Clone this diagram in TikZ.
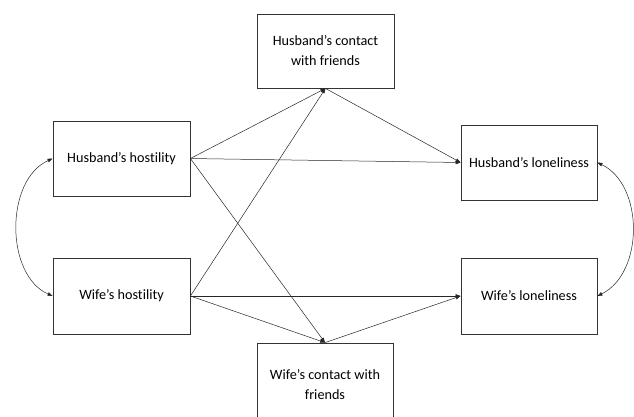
\documentclass[tikz,border=0pt]{standalone}
\usepackage{fontspec}
\setmainfont{Carlito}[Ligatures=NoCommon]
\usetikzlibrary{arrows.meta}
\begin{document}
\begin{tikzpicture}[x=1pt,y=-1pt,
  box/.style={draw=black!80,line width=0.8pt,rectangle,align=center,font=\fontsize{14.2}{20}\selectfont,inner sep=0pt},
  conn/.style={line width=0.5pt,draw=black!85,-{Triangle[length=5pt,width=3.6pt]}},
  dconn/.style={line width=0.5pt,draw=black!85,{Triangle[length=5pt,width=3.6pt]}-{Triangle[length=5pt,width=3.6pt]}}]
\useasboundingbox (0,0) rectangle (634,416);
\node[box,minimum width=137pt,minimum height=75pt] (hh) at (121.5,158.5) {Husband’s hostility};
\node[box,minimum width=137pt,minimum height=76pt] (wh) at (121.5,296) {Wife’s hostility};
\node[box,minimum width=136pt,minimum height=75pt] (hl) at (529,162.5) {Husband’s loneliness};
\node[box,minimum width=136pt,minimum height=76pt] (wl) at (529,296) {Wife’s loneliness};
\node[box,minimum width=137pt,minimum height=74pt] (hc) at (325.5,51) {Husband’s contact\\with friends};
\node[box,minimum width=136pt,minimum height=84pt] (wc) at (325,385) {Wife’s contact with\\friends};
\draw[conn] (hh.east) -- (hc.south);
\draw[conn] (hh.east) -- (hl.west);
\draw[conn] (hh.east) -- (wc.north);
\draw[conn] (wh.east) -- (hc.south);
\draw[conn] (wh.east) -- (wl.west);
\draw[conn] (wh.east) -- (wc.north);
\draw[conn] (hc.south) -- (hl.west);
\draw[conn] (wc.north) -- (wl.west);
\draw[dconn] (hh.west) .. controls (5,180) and (5,275) .. (wh.west);
\draw[dconn] (hl.east) .. controls (644,185) and (644,273) .. (wl.east);
\end{tikzpicture}
\end{document}
